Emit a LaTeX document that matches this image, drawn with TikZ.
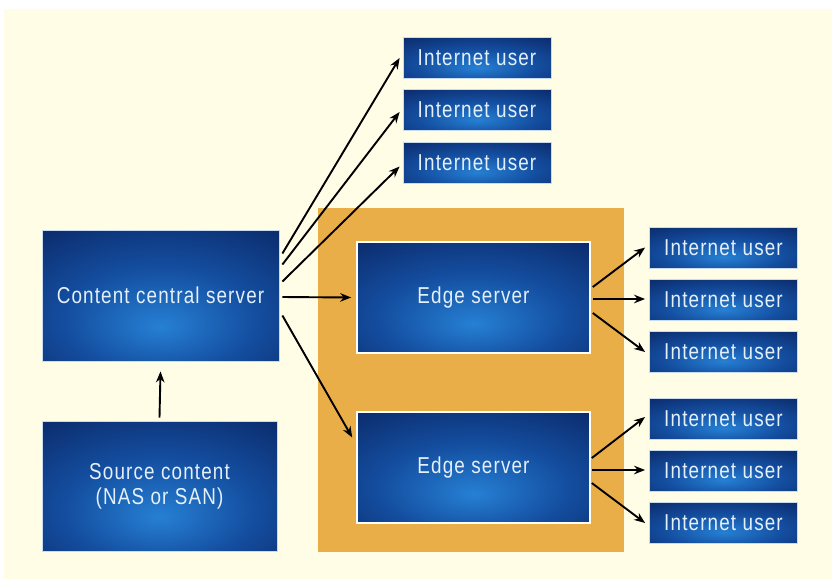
\documentclass[tikz,border=0pt]{standalone}
\usepackage{fontspec}
\usetikzlibrary{arrows.meta,calc}
\newfontfamily\labelfont[FakeStretch=0.82,LetterSpace=5]{Liberation Sans}

\definecolor{paper}{RGB}{255,253,230}
\definecolor{navy}{RGB}{9,34,94}
\definecolor{midblue}{RGB}{20,78,160}
\definecolor{glowblue}{RGB}{38,128,212}
\definecolor{amber}{RGB}{233,174,72}
\definecolor{labelwhite}{RGB}{228,240,250}
\definecolor{rimline}{RGB}{200,220,240}

% bright spot slightly below the centre, fading to dark navy at the edges
\pgfdeclareradialshading{boxglow}{\pgfpoint{0bp}{-12bp}}{%
  color(0bp)=(glowblue); color(20bp)=(midblue); color(46bp)=(navy); color(90bp)=(navy)}

\tikzset{
  bluebox/.style={shading=boxglow, draw=rimline, line width=0.8pt,
    inner sep=0pt, text=labelwhite, align=center,
    font=\labelfont\fontsize{23}{25}\selectfont},
  userbox/.style={bluebox, minimum width=148pt, minimum height=41pt},
  edgebox/.style={bluebox, draw=white, line width=1.6pt,
    minimum width=233pt, minimum height=111pt},
  flow/.style={draw=black, line width=1.9pt,
    -{Stealth[length=11pt,width=8.5pt]}}
}

\begin{document}
\begin{tikzpicture}[x=1pt,y=-1pt]
  % page and backdrop
  \fill[white] (0,0) rectangle (832,579);
  \fill[paper] (4,9) rectangle (832,579);
  \useasboundingbox (0,0) rectangle (832,579);

  % edge tier panel
  \fill[amber] (318,208) rectangle (624,552);

  % servers
  \node[bluebox, minimum width=237pt, minimum height=131pt] (ccs) at (160.5,295.5) {Content central server};
  \node[bluebox, minimum width=235pt, minimum height=130pt] (src) at (159.5,486) {Source content\\(NAS or SAN)};
  \node[edgebox] (e1) at (473.5,297.5) {Edge server};
  \node[edgebox] (e2) at (473.5,467.5) {Edge server};

  % users served directly
  \node[userbox] (t1) at (477,58) {Internet user};
  \node[userbox] (t2) at (477,110) {Internet user};
  \node[userbox] (t3) at (477,162.5) {Internet user};

  % users served by the edge servers
  \node[userbox] (r1) at (723.5,247.5) {Internet user};
  \node[userbox] (r2) at (723.5,300) {Internet user};
  \node[userbox] (r3) at (723.5,351.5) {Internet user};
  \node[userbox] (r4) at (723.5,418.5) {Internet user};
  \node[userbox] (r5) at (723.5,470.5) {Internet user};
  \node[userbox] (r6) at (723.5,522.5) {Internet user};

  % connectors
  \draw[flow] ($(src.north)+(0,-3)$) -- ($(ccs.south)+(0,10)$);

  \draw[flow] ($(ccs.east)+(3,-42)$) -- ($(t1.west)+(-3,0)$);
  \draw[flow] ($(ccs.east)+(3,-31)$) -- ($(t2.west)+(-3,2)$);
  \draw[flow] ($(ccs.east)+(3,-14)$) -- ($(t3.west)+(-3,4)$);
  \draw[flow] ($(ccs.east)+(3,1.5)$) -- ($(e1.west)+(-5,0)$);
  \draw[flow] ($(ccs.east)+(3,20)$) -- ($(e2.west)+(-4,-30)$);

  \draw[flow] ($(e1.east)+(2,-10.5)$) -- ($(r1.west)+(-4,0)$);
  \draw[flow] ($(e1.east)+(2,1.5)$) -- ($(r2.west)+(-4,-1)$);
  \draw[flow] ($(e1.east)+(2,15.5)$) -- ($(r3.west)+(-4,0.5)$);

  \draw[flow] ($(e2.east)+(1,-9.5)$) -- ($(r4.west)+(-4,-1.5)$);
  \draw[flow] ($(e2.east)+(1,2.5)$) -- ($(r5.west)+(-4,-0.5)$);
  \draw[flow] ($(e2.east)+(1,15.5)$) -- ($(r6.west)+(-4,0.5)$);
\end{tikzpicture}
\end{document}
